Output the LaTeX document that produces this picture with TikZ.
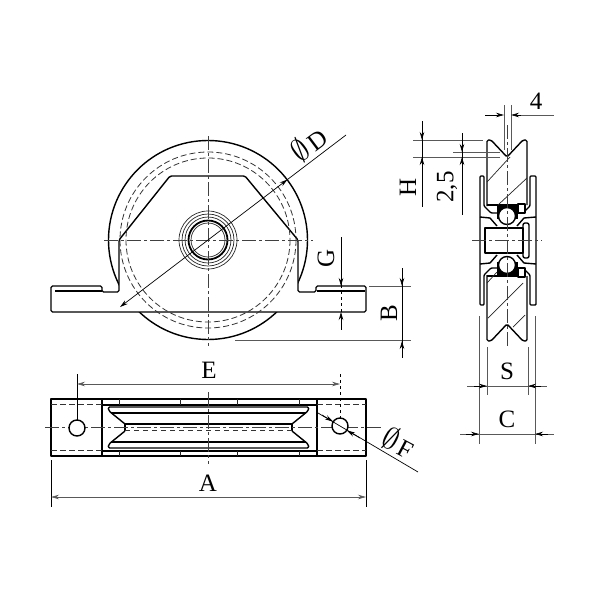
\documentclass[tikz,border=0pt]{standalone}
\usepackage{fontspec}
\setmainfont{Liberation Serif}
\usetikzlibrary{arrows.meta}

\newcommand{\diasign}{\scalebox{1.25}{$\emptyset$}\hspace{3pt}}
\newcommand{\halfsection}{%
  \draw[outl,rounded corners=1.5pt] (487,206) -- (487,140) -- (491,140) -- (507,157)
                                    -- (523,140) -- (527,140) -- (527,205);
  \draw[outl] (487,205) -- (526,205);
  \draw[outl,rounded corners=1pt] (480,240) -- (480,176) -- (484,176) -- (484,206) -- (491,213) -- (498,213);
  \draw[outl,rounded corners=1pt] (536,240) -- (536,176) -- (530,176) -- (530,206) -- (523,213) -- (517,213);
  \draw[outl] (480,217) -- (490,218) -- (497,226);
  \draw[outl] (536,217) -- (524,218) -- (517,226);
  \fill (497,204) -- (518,204) -- (518,219) -- (497,219) -- cycle;
  \draw[outl,fill=white] (507,216) circle (8.5);
  \draw[outl,fill=white] (518,204) rectangle (525,213);
}

\begin{document}
\begin{tikzpicture}[
    x=1pt, y=-1pt,
    >={Stealth[length=8pt,width=4.5pt]},
    outl/.style={line width=1.4pt, black, line join=round},
    thinl/.style={line width=0.7pt, black!85},
    hid/.style={line width=0.8pt, black!80, dash pattern=on 6pt off 3pt},
    ctr/.style={line width=0.8pt, black!75, dash pattern=on 14pt off 3pt on 3pt off 3pt},
    dim/.style={line width=0.7pt, black!65},
    lbl/.style={inner sep=0pt, font=\fontsize{25}{25}\selectfont}
  ]
  \useasboundingbox (0,0) rectangle (600,600);

  % front view
  \draw[outl] (208,240) circle (99.5);
  \draw[outl,fill=white,rounded corners=1.5pt] (51,286) -- (102,286) -- (102,292) -- (119,292)
        -- (119,240) -- (170,176) -- (245,176) -- (298,240) -- (298,292) -- (316,292) -- (316,286)
        -- (366,286) -- (366,312) -- (51,312) -- cycle;
  \draw[outl] (55,291) -- (102,291);
  \draw[outl] (317,291) -- (365,291);
  \draw[hid] (208,240) circle (88);
  \draw[hid] (208,240) circle (82);
  \draw[thinl] (208,240) circle (29);
  \draw[thinl] (208,240) circle (26);
  \draw[thinl] (208,240) circle (23);
  \draw[outl,line width=1.8pt] (208,240) circle (19.5);
  \draw[thinl] (208,240) circle (17);
  \draw[ctr] (208,136) -- (208,346);
  \draw[ctr] (104,240) -- (313,240);

  \draw[dim,black,<->] (120,307) -- (287.5,179.5);
  \draw[dim,black] (287.5,179.5) -- (346,135);
  \node[lbl,rotate=37] (diaD) at (309,144) {\diasign D};

  \draw[dim,black] (341,237) -- (341,285);
  \draw[dim,dashed,black] (341,285) -- (341,330);
  \draw[->,dim,black] (341,270) -- (341,286);
  \draw[->,dim,black] (341,328) -- (341,312);
  \node[lbl,rotate=90] (dimG) at (326,258) {G};

  \draw[dim] (369,286) -- (411,286);
  \draw[dim] (235,340.5) -- (411,340.5);
  \draw[dim,black] (402,268) -- (402,358);
  \draw[->,dim,black] (402,272) -- (402,286);
  \draw[->,dim,black] (402,355) -- (402,341);
  \node[lbl,rotate=90] (dimB) at (389,313) {B};

  % bottom view
  \draw[outl] (51,399) rectangle (366,456);
  \draw[outl] (102,399) -- (102,456);
  \draw[outl] (317,399) -- (317,456);
  \draw[outl] (102,405) -- (317,405);
  \draw[outl] (102,451) -- (317,451);
  \foreach \xx in {119,180,237,299} {
    \draw[thinl] (\xx,399) -- (\xx,405);
    \draw[thinl] (\xx,451) -- (\xx,456);
  }
  \draw[hid] (51,404) -- (102,404);
  \draw[hid] (51,450) -- (102,450);
  \draw[hid] (317,404) -- (366,404);
  \draw[hid] (317,450) -- (366,450);

  \draw[outl,rounded corners=1.5pt] (125,424) -- (109,411) -- (108,407) -- (309,407) -- (308,411) -- (292,424);
  \draw[outl] (111,413) -- (306,413);
  \draw[outl] (125,424) -- (292,424);
  \draw[outl,rounded corners=1.5pt] (125,431) -- (109,444) -- (108,448) -- (309,448) -- (308,444) -- (292,431);
  \draw[outl] (111,442) -- (306,442);
  \draw[outl] (125,424) -- (125,431);
  \draw[outl] (292,424) -- (292,431);
  \draw[hid,dash pattern=on 5pt off 4pt] (125,430) -- (292,430);
  \draw[ctr] (45,427) -- (382,427);
  \draw[ctr] (208,392) -- (208,464);
  \draw[outl,fill=white] (77,428) circle (8);
  \draw[outl,fill=white] (340,426) circle (8);

  \draw[dim,black] (77,374) -- (77,420);
  \draw[dim,dashed,black] (340,374) -- (340,418);
  \draw[<->,dim] (77,384) -- (340,384);
  \node[lbl] (dimE) at (209,370) {E};

  \draw[dim,black] (51,460) -- (51,507);
  \draw[dim,black] (366,460) -- (366,507);
  \draw[<->,dim] (51,497) -- (366,497);
  \node[lbl] (dimA) at (208,483) {A};

  \draw[dim,black] (318,413) -- (418,472);
  \draw[->,dim,black] (322,415) -- (333,421.5);
  \draw[->,dim,black] (360,438) -- (347,430.5);
  \node[lbl,rotate=-28] (diaF) at (399,443) {\diasign F};

  % side view
  \halfsection
  \begin{scope}[shift={(0,481)},yscale=-1]
    \halfsection
  \end{scope}
  \draw[outl] (485,228) rectangle (523,253);
  \draw[outl,rounded corners=2pt] (523,223) rectangle (529,258);
  \draw[thinl] (487,182) -- (510,157);
  \draw[thinl] (498,205) -- (527,178);
  \draw[thinl] (487,283) -- (497,272);
  \draw[thinl] (488,318) -- (523,283);
  \draw[thinl] (513,327) -- (525,315);
  \draw[ctr] (507,125) -- (507,347);
  \draw[ctr] (472,240) -- (542,240);

  \draw[dim] (504,105) -- (504,150);
  \draw[dim] (511,105) -- (511,150);
  \draw[dim,black] (485,115) -- (494,115);
  \draw[->,dim,black] (490,115) -- (504,115);
  \draw[->,dim,black] (525,115) -- (511,115);
  \draw[dim] (521,115) -- (554,115);
  \node[lbl] (dimfour) at (536,101) {4};

  \draw[dim] (413,140) -- (483,140);
  \draw[dim] (413,157) -- (500,157);
  \draw[dim] (453,152) -- (500,152);
  \draw[dim,black] (422,121) -- (422,207);
  \draw[->,dim,black] (422,126) -- (422,140);
  \draw[->,dim,black] (422,171) -- (422,157);
  \node[lbl,rotate=90] (dimH) at (408,187) {H};

  \draw[dim,black] (462,133) -- (462,215);
  \draw[->,dim,black] (462,138) -- (462,152);
  \draw[->,dim,black] (462,171) -- (462,157);
  \node[lbl,rotate=90] (dimtf) at (447,187) {2,5};

  \draw[dim] (487,347) -- (487,395);
  \draw[dim] (528,347) -- (528,395);
  \draw[dim] (479,316) -- (479,444);
  \draw[dim] (535,316) -- (535,444);
  \draw[dim] (467,386) -- (547,386);
  \draw[->,dim,black] (474,386) -- (487,386);
  \draw[->,dim,black] (541,386) -- (528,386);
  \node[lbl] (dimS) at (507,371) {S};

  \draw[dim] (460,434) -- (554,434);
  \draw[->,dim,black] (466,434) -- (479,434);
  \draw[->,dim,black] (548,434) -- (535,434);
  \node[lbl] (dimC) at (507,419) {C};
\end{tikzpicture}
\end{document}
